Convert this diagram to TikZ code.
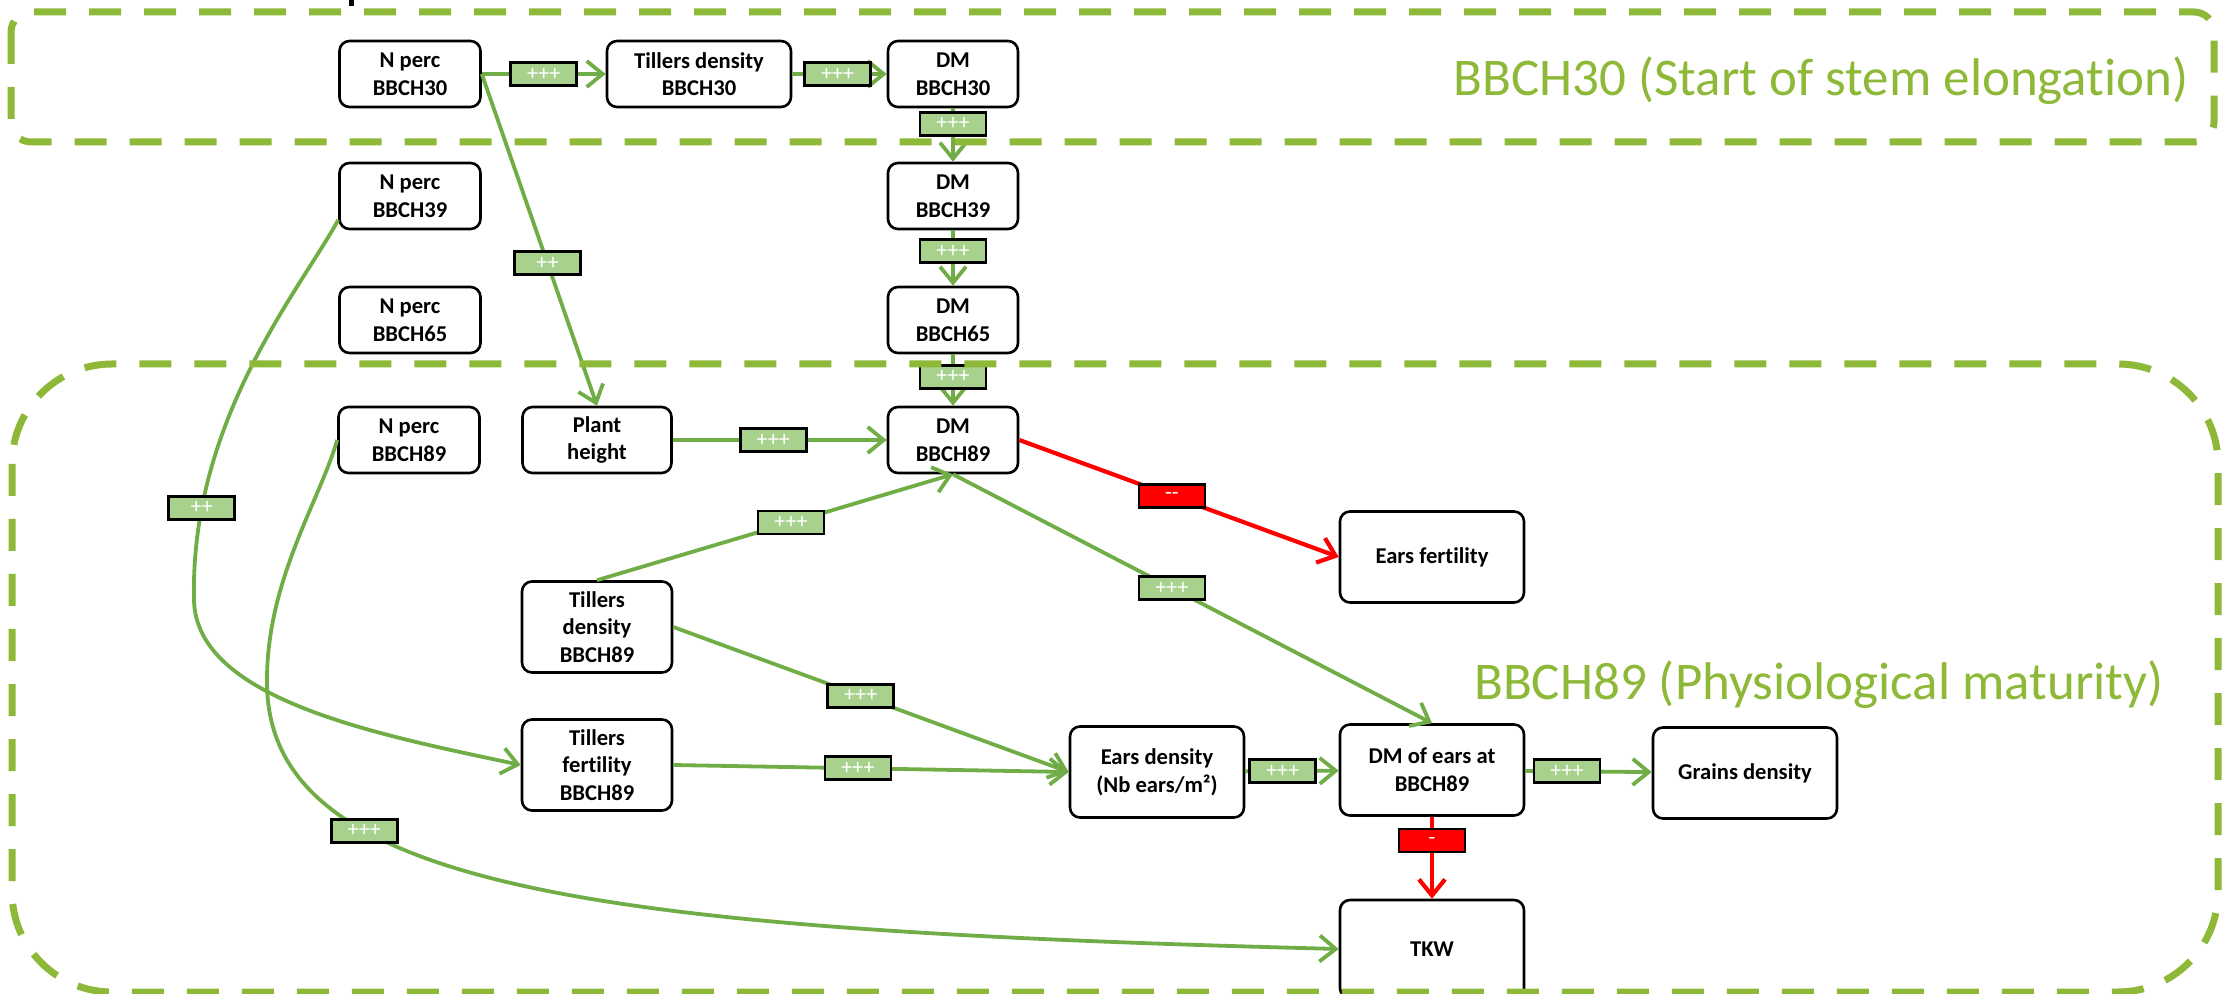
\documentclass[tikz,border=0pt]{standalone}
\usepackage{fontspec}
\setmainfont{Carlito}[Ligatures=NoCommon]
\usetikzlibrary{arrows.meta}
\definecolor{stagegreen}{RGB}{141,184,56}
\definecolor{linkgreen}{RGB}{112,173,71}
\definecolor{tagfill}{RGB}{169,209,142}
\tikzset{varbox/.style={draw,line width=1.3pt,rounded corners=5pt,fill=white,align=center,inner sep=1pt,font=\bfseries\fontsize{11.3}{13.8}\selectfont},
         smallbox/.style={varbox,minimum height=33pt},
         bigbox/.style={varbox,minimum height=45.5pt},
         poslink/.style={linkgreen,line width=1.9pt,-{Straight Barb[length=8pt,width=13pt]}},
         neglink/.style={red,line width=2.1pt,-{Straight Barb[length=8pt,width=13pt]}},
         signtag/.style={draw=black,line width=1.4pt,fill=tagfill,text=white,inner sep=0pt,minimum width=33pt,minimum height=11.5pt,font=\fontsize{11}{11}\selectfont},
         negtag/.style={signtag,fill=red},
         stagebox/.style={stagegreen,line width=3.5pt,dash pattern=on 16pt off 11.5pt},
         stagelabel/.style={text=stagegreen,inner sep=0pt,font=\fontsize{26.5}{30}\selectfont}}

\begin{document}
\begin{tikzpicture}[x=0.5pt,y=-0.5pt]
\useasboundingbox (0,0) rectangle (2229,994);
\draw[line width=2.5pt] (351,0) -- (351,6);

\node[smallbox,minimum width=70.5pt] (nperc30) at (410,74) {N perc\\BBCH30};
\node[smallbox,minimum width=92pt] (till30) at (699,74) {Tillers density\\BBCH30};
\node[smallbox,minimum width=65pt] (dm30) at (953,74) {DM\\BBCH30};
\node[smallbox,minimum width=70.5pt] (nperc39) at (410,196) {N perc\\BBCH39};
\node[smallbox,minimum width=65pt] (dm39) at (953,196) {DM\\BBCH39};
\node[smallbox,minimum width=70.5pt] (nperc65) at (410,320) {N perc\\BBCH65};
\node[smallbox,minimum width=65pt] (dm65) at (953,320) {DM\\BBCH65};
\node[smallbox,minimum width=70.5pt] (nperc89) at (409,440) {N perc\\BBCH89};
\node[smallbox,minimum width=74.5pt] (height) at (597,440) {Plant\\height};
\node[smallbox,minimum width=65pt] (dm89) at (953,440) {DM\\BBCH89};
\node[bigbox,minimum width=92pt] (earsfert) at (1432,557) {Ears fertility};
\node[bigbox,minimum width=75pt] (till89) at (597,627) {Tillers\\density\\BBCH89};
\node[bigbox,minimum width=75pt] (tillfert) at (597,765) {Tillers\\fertility\\BBCH89};
\node[bigbox,minimum width=87pt] (earsdens) at (1157,772) {Ears density\\(Nb ears/m²)};
\node[bigbox,minimum width=92pt] (dmears) at (1432,770) {DM of ears at\\BBCH89};
\node[bigbox,minimum width=92pt] (grains) at (1745,773) {Grains density};
\node[bigbox,minimum width=92pt,minimum height=49pt] (tkw) at (1432,949) {TKW};

\draw[poslink] (nperc30) -- node[signtag,pos=0.5]{+++} (till30);
\draw[poslink] (till30) -- node[signtag,pos=0.48]{+++} (dm30);
\draw[poslink] (dm30) -- node[signtag,pos=0.29]{+++} (dm39);
\draw[poslink] (dm39) -- node[signtag,pos=0.38]{+++} (dm65);
\draw[poslink] (dm65) -- node[signtag,pos=0.44]{+++} (dm89);
\draw[poslink] (nperc30.east) -- node[signtag,pos=0.57]{++} (height.north);
\draw[poslink] (height) -- node[signtag,pos=0.47]{+++} (dm89);
\draw[poslink] (till89.north) -- node[signtag,pos=0.545]{+++} (dm89.south);
\draw[poslink] (dm89.south) -- node[signtag,pos=0.457]{+++} (dmears.north);
\draw[neglink] (dm89.east) -- node[negtag,pos=0.478]{-{}-} (earsfert.west);
\draw[poslink] (till89.east) -- node[signtag,pos=0.474]{+++} (earsdens.west);
\draw[poslink] (tillfert.east) -- node[signtag,pos=0.467]{+++} (earsdens.west);
\draw[poslink] (earsdens) -- node[signtag,pos=0.4]{+++} (dmears);
\draw[poslink] (dmears) -- node[signtag,pos=0.33]{+++} (grains);
\draw[neglink] (dmears) -- node[negtag,pos=0.29]{-} (tkw);
\draw[poslink] ([yshift=-12pt]nperc39.west) .. controls (300,290) and (190,420) .. (194,600) node[signtag,pos=0.82]{++}
  .. controls (196,700) and (380,735) .. (tillfert.west);
\draw[poslink] (nperc89.west) .. controls (320,500) and (267,580) .. (267,680)
  .. controls (265,890) and (600,930) .. (tkw.west) node[signtag,pos=0.31]{+++};

\draw[stagebox,rounded corners=10pt] (11,12) rectangle (2214,142);
\draw[stagebox,rounded corners=50pt] (12,364) rectangle (2218,992);
\node[stagelabel,anchor=base east] (lab30) at (2189,96) {BBCH30 (Start of stem elongat\kern0pt ion)};
\node[stagelabel,anchor=base east] (lab89) at (2164,699) {BBCH89 (Physiological maturity)};
\end{tikzpicture}
\end{document}
